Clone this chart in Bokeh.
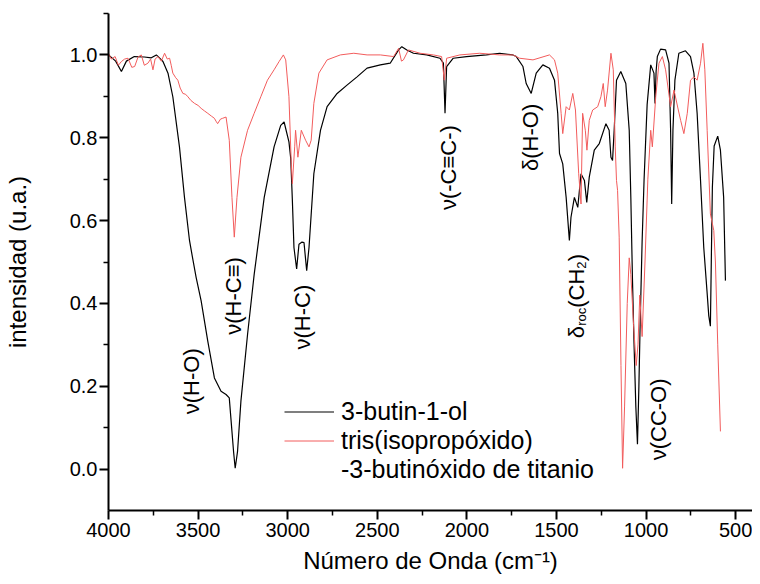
import numpy as np
from bokeh.plotting import figure
from bokeh.models import (Range1d, FixedTicker, PrintfTickFormatter, Legend,
                          LegendItem, ColumnDataSource)
from bokeh.core.properties import value
from bokeh.embed import file_html
from bokeh.resources import INLINE

# ---------------- data ----------------
wn_black = [4000, 3960, 3928, 3900, 3856, 3800, 3761, 3733, 3696, 3668, 3641,
            3604, 3576, 3548, 3535, 3511, 3483, 3446, 3409, 3372, 3344, 3326,
            3317, 3302, 3293, 3280, 3261, 3224, 3187, 3131, 3076, 3039, 3020,
            2993, 2983, 2974, 2965, 2950, 2937, 2920, 2909, 2894, 2881, 2854,
            2817, 2780, 2724, 2669, 2613, 2557, 2483, 2428, 2381, 2363, 2335,
            2298, 2224, 2150, 2131, 2122, 2113, 2076, 2002, 1891, 1817, 1743,
            1724, 1687, 1669, 1641, 1613, 1576, 1539, 1511, 1493, 1483, 1465,
            1446, 1428, 1419, 1400, 1381, 1363, 1344, 1331, 1317, 1289, 1261,
            1224, 1206, 1196, 1187, 1178, 1165, 1141, 1113, 1094, 1085, 1076,
            1067, 1057, 1048, 1040, 1033, 1022, 1011, 994, 974, 956, 950, 944,
            937, 919, 891, 872, 863, 857, 850, 839, 817, 780, 752, 733, 715,
            696, 678, 660, 650, 641, 636, 630, 620, 600, 585, 567, 557]
int_black = [1.0, 0.985, 0.96, 0.985, 0.996, 0.995, 0.993, 1.0, 0.984, 0.956,
             0.899, 0.778, 0.656, 0.552, 0.52, 0.463, 0.406, 0.309, 0.22, 0.188,
             0.18, 0.172, 0.123, 0.042, 0.002, 0.042, 0.164, 0.325, 0.47, 0.656,
             0.778, 0.83, 0.838, 0.79, 0.75, 0.65, 0.535, 0.483, 0.543, 0.548,
             0.547, 0.479, 0.535, 0.713, 0.818, 0.875, 0.907, 0.927, 0.947,
             0.968, 0.976, 0.98, 1.012, 1.02, 1.012, 1.004, 1.0, 0.992, 0.98,
             0.859, 0.972, 0.992, 0.996, 1.0, 1.004, 1.0, 0.996, 0.972, 0.931,
             0.907, 0.956, 0.976, 0.968, 0.939, 0.859, 0.762, 0.737, 0.656,
             0.552, 0.608, 0.656, 0.632, 0.713, 0.697, 0.644, 0.705, 0.77,
             0.786, 0.834, 0.818, 0.753, 0.745, 0.818, 0.939, 0.96, 0.931,
             0.818, 0.656, 0.46, 0.30, 0.15, 0.06, 0.20, 0.35, 0.55, 0.70, 0.88,
             0.976, 0.956, 0.883, 0.96, 0.996, 1.014, 1.012, 0.98, 0.818, 0.64,
             0.818, 0.939, 1.004, 1.01, 0.996, 0.956, 0.859, 0.697, 0.535, 0.43,
             0.37, 0.345, 0.5, 0.68, 0.78, 0.804, 0.77, 0.656, 0.455]

wn_red = [4000, 3985, 3963, 3945, 3928, 3910, 3891, 3870, 3854, 3835, 3817,
          3800, 3780, 3765, 3752, 3740, 3724, 3705, 3687, 3672, 3659, 3650,
          3641, 3625, 3613, 3600, 3585, 3570, 3557, 3540, 3520, 3500, 3483,
          3465, 3446, 3425, 3409, 3400, 3391, 3375, 3363, 3344, 3326, 3311,
          3298, 3283, 3261, 3224, 3187, 3150, 3113, 3076, 3048, 3024, 3011,
          2993, 2980, 2974, 2961, 2956, 2943, 2924, 2900, 2881, 2869, 2854,
          2826, 2780, 2706, 2631, 2557, 2483, 2409, 2381, 2365, 2354, 2326,
          2261, 2187, 2141, 2126, 2113, 2039, 1928, 1817, 1743, 1706, 1631,
          1539, 1511, 1493, 1474, 1465, 1446, 1428, 1409, 1394, 1376, 1363,
          1354, 1339, 1330, 1317, 1298, 1270, 1252, 1239, 1228, 1215, 1196,
          1183, 1172, 1165, 1159, 1150, 1140, 1131, 1120, 1105, 1094, 1085,
          1070, 1055, 1045, 1035, 1022, 1006, 990, 974, 965, 946, 928, 909,
          891, 863, 844, 820, 807, 789, 770, 752, 733, 715, 696, 683, 672,
          659, 641, 622, 613, 600, 585]
int_red = [1.004, 0.99, 0.996, 0.975, 0.984, 0.99, 0.992, 0.97, 0.972, 0.995,
           1.0, 0.975, 0.98, 0.99, 0.964, 0.99, 0.996, 0.985, 1.004, 0.99,
           0.992, 0.975, 0.956, 0.945, 0.939, 0.92, 0.907, 0.905, 0.899, 0.89,
           0.883, 0.878, 0.871, 0.865, 0.859, 0.852, 0.847, 0.84, 0.834, 0.845,
           0.847, 0.85, 0.794, 0.656, 0.56, 0.656, 0.753, 0.818, 0.859, 0.899,
           0.939, 0.964, 0.984, 1.0, 0.988, 0.899, 0.737, 0.689, 0.778, 0.818,
           0.753, 0.818, 0.794, 0.778, 0.794, 0.883, 0.956, 0.988, 1.0, 1.004,
           1.0, 1.0, 0.996, 1.016, 0.985, 0.988, 1.012, 1.004, 1.0, 0.996,
           0.939, 0.992, 1.0, 1.004, 1.0, 1.0, 0.992, 0.988, 1.0, 0.988, 0.956,
           0.859, 0.81, 0.875, 0.867, 0.907, 0.867, 0.713, 0.64, 0.859, 0.818,
           0.77, 0.842, 0.867, 0.875, 0.899, 0.931, 0.875, 0.915, 1.004, 0.964,
           0.778, 0.697, 0.673, 0.56, 0.25, 0.002, 0.15, 0.40, 0.51, 0.47,
           0.35, 0.25, 0.30, 0.42, 0.32, 0.50, 0.70, 0.818, 0.778, 0.899, 0.98,
           0.996, 0.964, 0.875, 0.915, 0.867, 0.842, 0.81, 0.859, 0.939, 0.947,
           0.939, 0.98, 1.028, 0.964, 0.818, 0.616, 0.576, 0.50, 0.30, 0.091]

x_ticks = [4000, 3500, 3000, 2500, 2000, 1500, 1000, 500]
x_minor = [3750, 3250, 2750, 2250, 1750, 1250, 750]
y_ticks = [0.0, 0.2, 0.4, 0.6, 0.8, 1.0]
y_minor = [0.1, 0.3, 0.5, 0.7, 0.9, 1.1]

series_labels = ["3-butin-1-ol", "tris(isopropóxido)", "-3-butinóxido de titanio"]
x_title = "Número de Onda (cm⁻¹)"
y_title = "intensidad (u.a.)"

ann_text = ["ν(H-O)", "ν(H-C≡)", "ν(H-C)", "ν(-C≡C-)", "δ(H-O)", "ν(CC-O)"]
ann_x = [3539, 3300, 2917, 2100, 1644, 933]
ann_y = [0.212, 0.418, 0.367, 0.728, 0.801, 0.12]

FONT = "Liberation Sans"
RED = "#f25c5c"

# ---------------- figure ----------------
X0, X1 = 4000, 406
Y0, Y1 = -0.1, 1.1
p = figure(width=752, height=576, output_backend="svg", toolbar_location=None,
           x_range=Range1d(X0, X1), y_range=Range1d(Y0, Y1),
           min_border_left=105, min_border_right=0, min_border_top=13,
           min_border_bottom=0, background_fill_color="white",
           border_fill_color="white")
p.grid.visible = False
p.outline_line_color = None

for ax in (p.xaxis[0], p.yaxis[0]):
    ax.axis_line_width = 2
    ax.major_tick_line_width = 2
    ax.minor_tick_line_width = 1.5
    ax.major_tick_out = 9
    ax.major_tick_in = 0
    ax.minor_tick_out = 5
    ax.minor_tick_in = 0
    ax.major_label_text_font = FONT
    ax.major_label_text_font_size = "20px"
    ax.major_label_text_color = "black"
    ax.axis_label_text_font = FONT
    ax.axis_label_text_font_size = "24px"
    ax.axis_label_text_font_style = "normal"
    ax.axis_label_text_color = "black"

p.xaxis[0].ticker = FixedTicker(ticks=x_ticks, minor_ticks=x_minor)
p.xaxis[0].formatter = PrintfTickFormatter(format="%d")
p.xaxis[0].major_label_standoff = 3
p.xaxis[0].axis_label = x_title
p.xaxis[0].axis_label_standoff = 7

p.yaxis[0].ticker = FixedTicker(ticks=y_ticks, minor_ticks=y_minor)
p.yaxis[0].formatter = PrintfTickFormatter(format="%.1f")
p.yaxis[0].major_label_standoff = 2
p.yaxis[0].axis_label = y_title
p.yaxis[0].axis_label_standoff = 36

r_black = p.line(wn_black, int_black, line_color="black", line_width=1.2)
r_red = p.line(wn_red, int_red, line_color=RED, line_width=1.0)
r_dummy = p.line(x=[], y=[], line_alpha=0)

# annotations
src = ColumnDataSource(dict(x=ann_x, y=ann_y, t=ann_text))
p.text(x="x", y="y", text="t", source=src, angle=np.pi / 2,
       text_align="center", text_baseline="middle",
       text_font=value(FONT), text_font_size="22px", text_color="black")

# delta_roc(CH2) label assembled from pieces (screen px -> data units)
fw = 647.0
fh = 497.0
px_x = (X0 - X1) / fw
px_y = (Y1 - Y0) / fh
anchor_x, anchor_y = 1389, 0.316
pieces = [("δ", "22px", 0.0, 0.0), ("roc", "13px", 12.5, 5.0),
          ("(CH", "22px", 30.5, 0.0), ("2", "13px", 69.5, 5.0),
          (")", "22px", 77.0, 0.0)]
for txt, fs, along, shift in pieces:
    p.text(x=[anchor_x - shift * px_x], y=[anchor_y + along * px_y],
           text=[txt], angle=np.pi / 2, text_align="left",
           text_baseline="alphabetic", text_font=value(FONT),
           text_font_size=fs, text_color="black")

legend = Legend(items=[LegendItem(label=series_labels[0], renderers=[r_black]),
                       LegendItem(label=series_labels[1], renderers=[r_red]),
                       LegendItem(label=series_labels[2], renderers=[r_dummy])],
                location=(176, 26), background_fill_alpha=0,
                border_line_color=None, padding=0, spacing=0, margin=0,
                glyph_width=50, glyph_height=27, label_height=27,
                label_standoff=7, label_text_font=FONT,
                label_text_color="black",
                label_text_font_size="25px", label_text_baseline="middle")
p.add_layout(legend)

open("out.html", "w").write(file_html(p, INLINE))
